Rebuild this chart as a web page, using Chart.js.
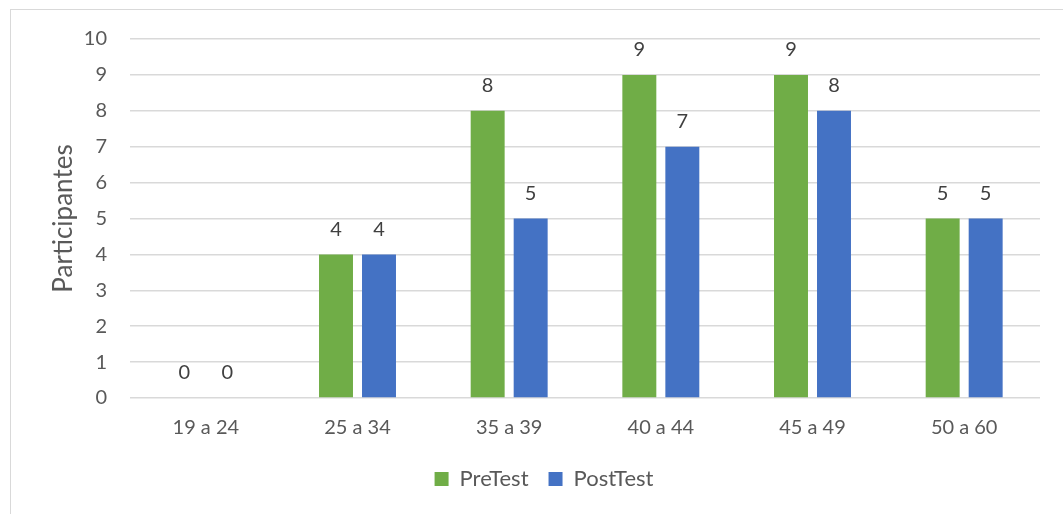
<!DOCTYPE html>
<html>
<head>
<meta charset="utf-8">
<script src="https://cdn.jsdelivr.net/npm/chart.js@4/dist/chart.umd.min.js"></script>
<style>
  html, body { margin: 0; padding: 0; background: #fff; overflow: hidden; }
  #frame {
    position: absolute; left: 10px; top: 9px; width: 1100px; height: 560px;
    border-left: 1px solid #d9d9d9; border-top: 1px solid #d9d9d9;
  }
  #wrap { position: absolute; left: 0; top: 0; width: 1063px; height: 514px; }
</style>
</head>
<body>
<div id="frame"></div>
<div id="wrap"><canvas id="c" width="1063" height="514"></canvas></div>
<script>
// Age groups and participant counts
const categories = ['19 a 24', '25 a 34', '35 a 39', '40 a 44', '45 a 49', '50 a 60'];
const preTest = [0, 4, 8, 9, 9, 5];
const postTest = [0, 4, 5, 7, 8, 5];
const yTicks = [0, 1, 2, 3, 4, 5, 6, 7, 8, 9, 10];

const textColor = '#595959';
const gridColor = '#d9d9d9';
const fontFamily = "Lato, 'Open Sans', sans-serif";

// Writes each bar's value above it
const valueLabels = {
  id: 'valueLabels',
  afterDatasetsDraw(chart) {
    const ctx = chart.ctx;
    ctx.save();
    ctx.fillStyle = '#404040';
    ctx.font = '20px ' + fontFamily;
    ctx.textAlign = 'center';
    ctx.textBaseline = 'middle';
    chart.data.datasets.forEach((ds, i) => {
      const meta = chart.getDatasetMeta(i);
      meta.data.forEach((bar, j) => {
        ctx.fillText(String(ds.data[j]), bar.x, bar.y - 25);
      });
    });
    ctx.restore();
  }
};

new Chart(document.getElementById('c'), {
  type: 'bar',
  data: {
    labels: categories,
    datasets: [
      { label: 'PreTest', data: preTest, backgroundColor: '#70ad47' },
      { label: 'PostTest', data: postTest, backgroundColor: '#4472c4' }
    ]
  },
  options: {
    responsive: false,
    animation: false,
    events: [],
    layout: { padding: { left: 48, right: 23, top: 39, bottom: 14 } },
    datasets: { bar: { categoryPercentage: 0.567, barPercentage: 0.79 } },
    scales: {
      x: {
        grid: { display: false, drawTicks: false },
        border: { display: false },
        ticks: { color: textColor, font: { family: fontFamily, size: 20 }, padding: 18 },
        afterFit(s) { s.height = 50; }
      },
      y: {
        min: 0,
        max: 10,
        afterBuildTicks(s) { s.ticks = yTicks.map(v => ({ value: v })); },
        grid: { color: gridColor, lineWidth: 1.5, drawTicks: false },
        border: { display: false },
        ticks: { color: textColor, font: { family: fontFamily, size: 20 }, padding: 23 },
        title: {
          display: true, text: 'Participantes', color: textColor,
          font: { family: fontFamily, size: 26 }, padding: { top: 0, bottom: 0 }
        },
        afterFit(s) { s.width = 82; }
      }
    },
    plugins: {
      legend: {
        position: 'bottom',
        labels: {
          color: textColor, font: { family: fontFamily, size: 22 },
          boxWidth: 14, boxHeight: 14, padding: 20
        }
      },
      tooltip: { enabled: false }
    }
  },
  plugins: [valueLabels]
});
</script>
</body>
</html>
